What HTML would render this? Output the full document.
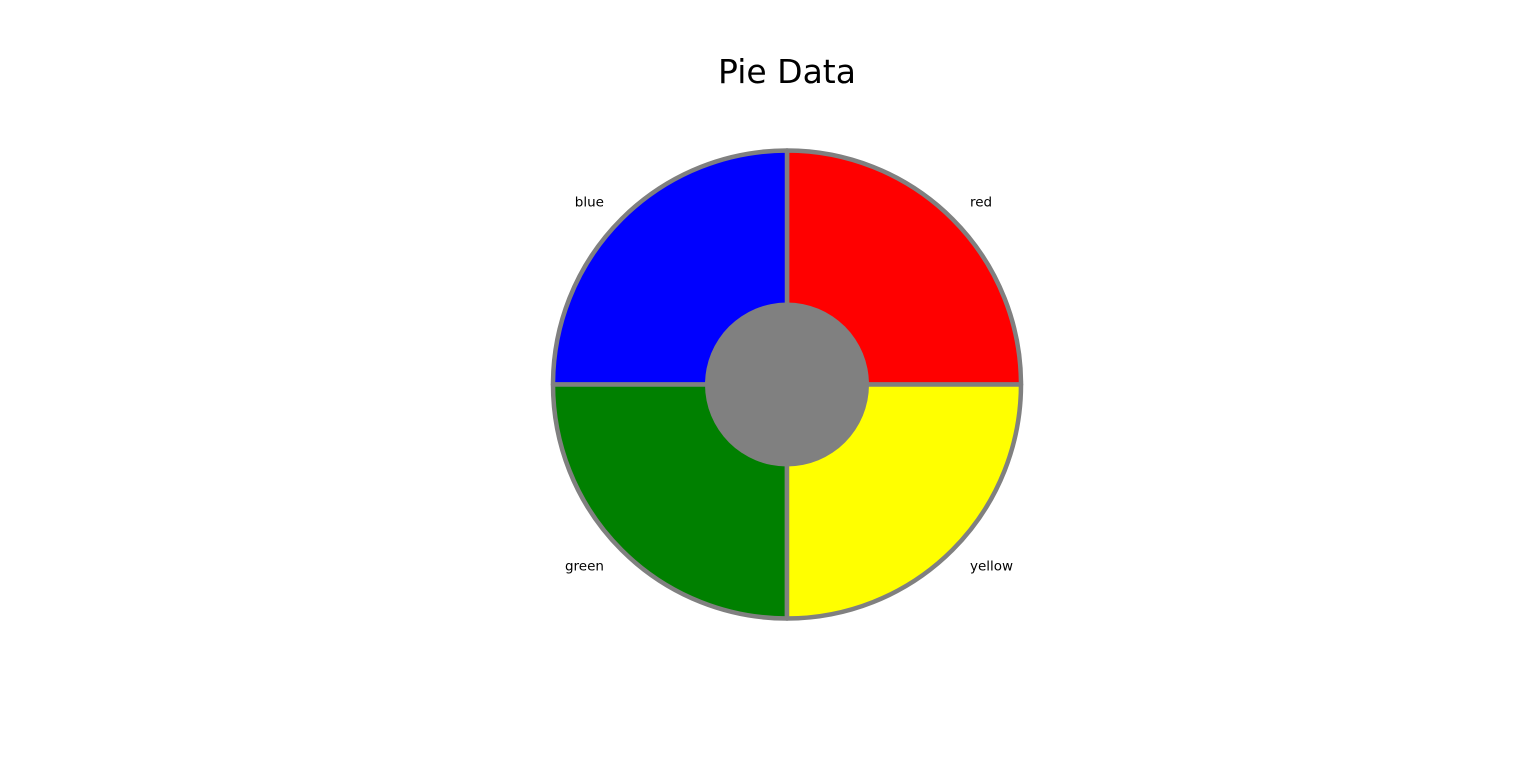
<!DOCTYPE html>
<html><head><meta charset="utf-8"><style>
html,body{margin:0;padding:0;background:#fff;width:1536px;height:762px;overflow:hidden}
svg{display:block;font-family:"DejaVu Sans","Liberation Sans",sans-serif}
</style></head><body>
<svg id="chart" width="1536" height="762">
<text x="787" y="83" text-anchor="middle" font-size="33" fill="#000">Pie Data</text>
<g id="slices"></g>
<g id="labels"></g>
<circle cx="787" cy="384.5" r="82" fill="#808080"></circle>
</svg>
<script>
const categories = ["red","blue","green","yellow"];
const values = [25,25,25,25];
const colors = ["#ff0000","#0000ff","#008000","#ffff00"];
const cx=787, cy=384.5, R=234;
const total=values.reduce((a,b)=>a+b,0);
const ns="http://www.w3.org/2000/svg";
const gS=document.getElementById('slices'), gL=document.getElementById('labels');
let a0=0;
values.forEach((v,i)=>{
  const a1=a0+v/total*2*Math.PI;
  const x0=cx+R*Math.cos(a0), y0=cy-R*Math.sin(a0);
  const x1=cx+R*Math.cos(a1), y1=cy-R*Math.sin(a1);
  const large=(a1-a0)>Math.PI?1:0;
  const p=document.createElementNS(ns,'path');
  p.setAttribute('d',`M${cx},${cy} L${x0},${y0} A${R},${R} 0 ${large} 0 ${x1},${y1} Z`);
  p.setAttribute('fill',colors[i]);
  p.setAttribute('stroke','#808080');
  p.setAttribute('stroke-width','4.5');
  p.setAttribute('stroke-linejoin','round');
  
  
  gS.appendChild(p);
  const am=(a0+a1)/2;
  const lx=cx+R*1.1*Math.cos(am), ly=cy-R*1.1*Math.sin(am);
  const t=document.createElementNS(ns,'text');
  t.setAttribute('x',Math.cos(am)>=0?lx+1:lx-1); t.setAttribute('y',ly+4);
  t.setAttribute('font-size','13.5');
  t.setAttribute('text-anchor',Math.cos(am)>=0?'start':'end');
  t.textContent=categories[i];
  
  
  gL.appendChild(t);
  a0=a1;
});
</script>
</body></html>
